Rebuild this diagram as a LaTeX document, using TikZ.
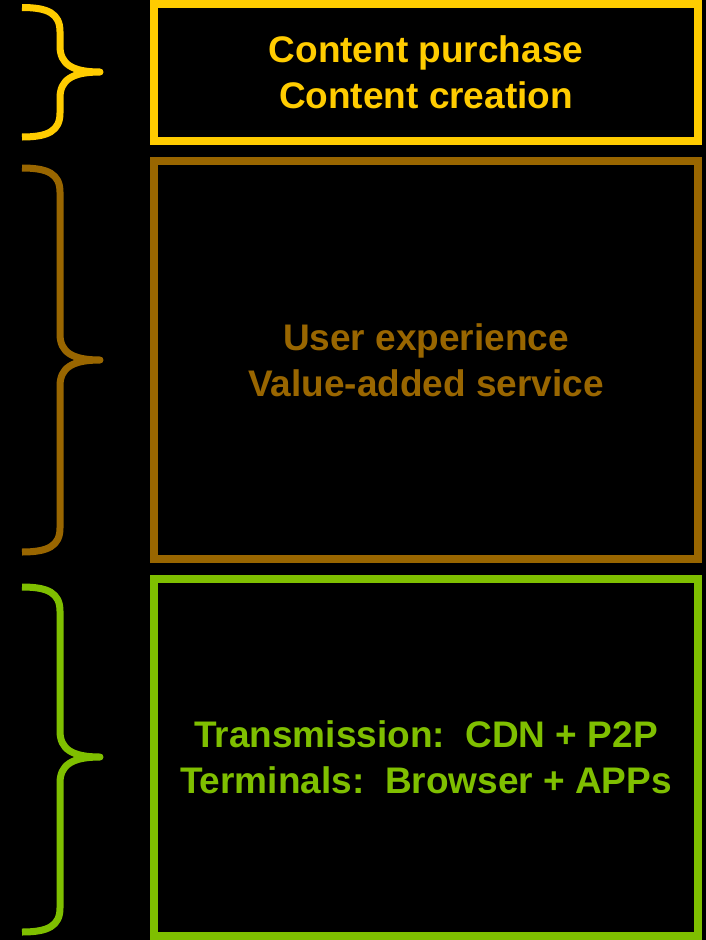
\documentclass[tikz,border=0pt]{standalone}
\usepackage{fontspec}
\setmainfont{Liberation Sans}
\definecolor{cyel}{HTML}{FFCC00}
\definecolor{cbrn}{HTML}{996600}
\definecolor{cgrn}{HTML}{7FBF00}
\begin{document}
\begin{tikzpicture}[x=1pt,y=-1pt,
  layerbox/.style={draw=#1, line width=8pt, minimum width=544pt, inner sep=0pt},
  layertext/.style={text=#1, font=\fontsize{37}{46}\selectfont\bfseries, align=center},
  bracepath/.style={draw=#1, line width=7pt, line cap=butt, line join=round}]
\fill[black] (0,0) rectangle (706,940);
\useasboundingbox (0,0) rectangle (706,940);
% boxes
\node[layerbox=cyel, minimum height=137pt] (b1) at (426,72.5) {};
\node[layerbox=cbrn, minimum height=398pt] (b2) at (426,360) {};
\node[layerbox=cgrn, minimum height=357pt] (b3) at (426,757.5) {};
% texts
\node[layertext=cyel] (t1) at (b1.center) {Content purchase\\Content creation};
\node[layertext=cbrn] (t2) at (b2.center) {User experience\\Value-added service};
\node[layertext=cgrn] (t3) at (b3.center) {Transmission:\ \ CDN + P2P\\Terminals:\ \ Browser + APPs};
% braces
\newcommand{\mybrace}[4]{%
  \draw[bracepath=#1] (22,#2) .. controls (48,#2) and (60,#2+6) .. (60,#2+24)
    -- (60,#4-26) .. controls (60,#4-8) and (72,#4) .. (100,#4)
    .. controls (72,#4) and (60,#4+8) .. (60,#4+26)
    -- (60,#3-24) .. controls (60,#3-6) and (48,#3) .. (22,#3);}
\mybrace{cyel}{7.5}{137}{72}
\mybrace{cbrn}{168}{552}{360}
\mybrace{cgrn}{587}{932}{757}
\end{tikzpicture}
\end{document}
